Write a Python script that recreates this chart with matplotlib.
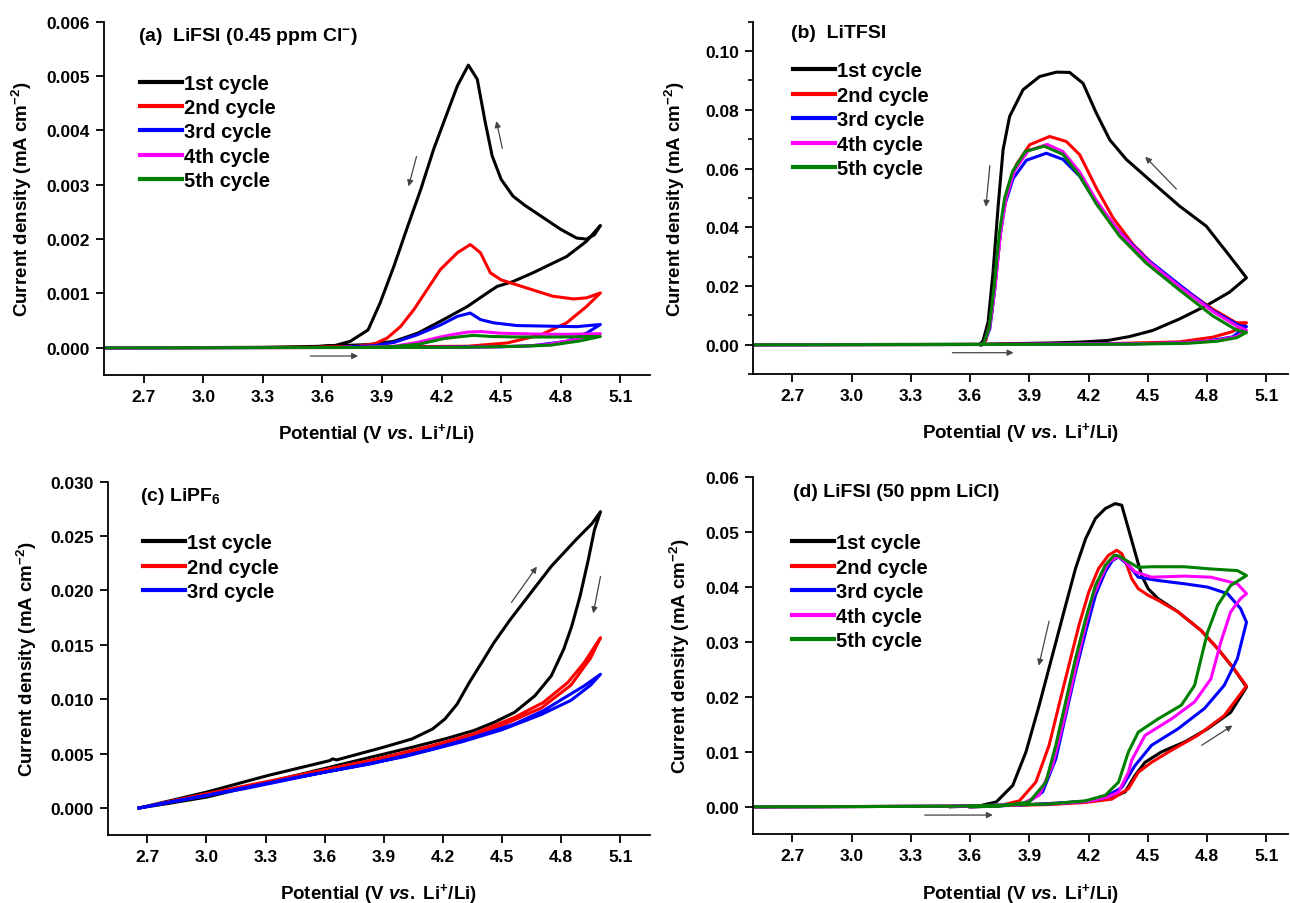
import matplotlib
matplotlib.use("Agg")
import matplotlib.pyplot as plt
from matplotlib.ticker import MultipleLocator, FormatStrFormatter

plt.rcParams['font.family'] = ['Liberation Sans', 'DejaVu Sans']
plt.rcParams['font.weight'] = 'bold'
plt.rcParams['axes.labelweight'] = 'bold'
plt.rcParams['mathtext.fontset'] = 'custom'
plt.rcParams['mathtext.rm'] = 'Liberation Sans:bold'
plt.rcParams['mathtext.bf'] = 'Liberation Sans:bold'
plt.rcParams['mathtext.it'] = 'Liberation Sans:italic:bold'

cycle_names = ['1st cycle', '2nd cycle', '3rd cycle', '4th cycle', '5th cycle']
cycle_colors = ['black', '#ff0000', '#0000ff', '#ff00ff', '#008000']

# ---- (a) LiFSI, 0.45 ppm Cl- : forward scan then reverse scan ----
a_v1 = [2.50, 3.30, 3.60, 3.83, 3.96, 4.08, 4.21, 4.33, 4.43, 4.48, 4.56, 4.66, 4.83, 4.93, 5.00,
        4.97, 4.93, 4.88, 4.80, 4.71, 4.62, 4.56, 4.50, 4.455, 4.42, 4.38, 4.335, 4.28, 4.21, 4.16,
        4.095, 4.03, 3.96, 3.89, 3.83, 3.74, 3.66, 3.55]
a_j1 = [0, 0.00001, 0.00003, 0.00006, 0.00012, 0.00027, 0.00052, 0.00076, 0.00101, 0.00113, 0.00122,
        0.00138, 0.00168, 0.00196, 0.00225,
        0.00208, 0.00200, 0.00202, 0.00218, 0.00240, 0.00262, 0.00279, 0.00310, 0.00353, 0.00415,
        0.00494, 0.00520, 0.00482, 0.00414, 0.00365, 0.00291, 0.00224, 0.00150, 0.00082, 0.00033,
        0.00012, 0.00004, 0.00002]
a_v2 = [2.50, 3.50, 3.90, 4.33, 4.53, 4.70, 4.83, 4.93, 5.00,
        4.93, 4.865, 4.76, 4.63, 4.50, 4.446, 4.396, 4.345, 4.28, 4.194, 4.127, 4.06, 3.993, 3.926,
        3.86, 3.75, 3.60]
a_j2 = [0, 0.00001, 0.00002, 0.00003, 0.00009, 0.00024, 0.00046, 0.00076, 0.00101,
        0.00092, 0.00090, 0.00095, 0.00110, 0.00125, 0.00138, 0.00175, 0.00190, 0.00175, 0.00144,
        0.00107, 0.00070, 0.00039, 0.00018, 0.00007, 0.00002, 0.00001]
a_v3 = [2.50, 4.00, 4.50, 4.66, 4.83, 4.93, 5.00,
        4.88, 4.73, 4.58, 4.463, 4.396, 4.345, 4.28, 4.194, 4.077, 3.96, 3.86, 3.70]
a_j3 = [0, 0.00001, 0.00002, 0.00004, 0.00012, 0.00027, 0.00043,
        0.00039, 0.00040, 0.00041, 0.00046, 0.00052, 0.00064, 0.00058, 0.00042, 0.00024, 0.00010,
        0.00004, 0.00001]
a_v4 = [2.50, 4.30, 4.60, 4.73, 4.90, 5.00,
        4.85, 4.73, 4.60, 4.496, 4.40, 4.33, 4.25, 4.194, 4.077, 3.96, 3.80]
a_j4 = [0, 0.00001, 0.00003, 0.00006, 0.00017, 0.00026,
        0.00025, 0.00025, 0.00026, 0.00027, 0.00030, 0.00029, 0.00024, 0.00020, 0.00010, 0.00003,
        0.00001]
a_v5 = [2.50, 4.30, 4.60, 4.75, 4.90, 5.00,
        4.80, 4.58, 4.45, 4.36, 4.28, 4.21, 4.09, 3.95, 3.80]
a_j5 = [0, 0.00001, 0.00003, 0.00005, 0.00013, 0.00021,
        0.00020, 0.00020, 0.00021, 0.00023, 0.00020, 0.00017, 0.00007, 0.00002, 0.00001]

# ---- (b) LiTFSI ----
b_v1 = [2.50, 3.65, 4.00, 4.155, 4.30, 4.408, 4.526, 4.661, 4.796, 4.914, 5.00,
        4.914, 4.796, 4.661, 4.526, 4.391, 4.307, 4.239, 4.172, 4.104, 4.037, 3.952, 3.868, 3.80,
        3.767, 3.742, 3.716, 3.691, 3.666, 3.65]
b_j1 = [0, 0.0002, 0.0006, 0.0009, 0.0015, 0.0028, 0.0049, 0.0088, 0.0133, 0.0179, 0.0228,
        0.0303, 0.0404, 0.0472, 0.0551, 0.0631, 0.0698, 0.0789, 0.0890, 0.0927, 0.0928, 0.0913,
        0.0868, 0.0777, 0.0664, 0.0472, 0.0246, 0.0077, 0.0015, 0.0]
b_v2 = [2.50, 3.65, 4.30, 4.55, 4.66, 4.83, 4.93, 5.00,
        4.948, 4.83, 4.695, 4.56, 4.425, 4.324, 4.239, 4.155, 4.087, 4.003, 3.902, 3.834, 3.792,
        3.758, 3.733, 3.708, 3.68, 3.66]
b_j2 = [0, 0.0001, 0.0004, 0.0008, 0.0010, 0.0026, 0.0045, 0.0075,
        0.0075, 0.0121, 0.0184, 0.0251, 0.0342, 0.0432, 0.0534, 0.0647, 0.0692, 0.0709, 0.0681,
        0.0613, 0.0534, 0.0409, 0.0250, 0.0099, 0.0015, 0.0]
b_v3 = [2.50, 3.65, 4.40, 4.66, 4.80, 4.93, 5.00,
        4.965, 4.83, 4.661, 4.492, 4.357, 4.239, 4.155, 4.07, 3.986, 3.885, 3.818, 3.775, 3.75,
        3.725, 3.70, 3.67, 3.655]
b_j3 = [0, 0.0001, 0.0003, 0.0006, 0.0012, 0.0027, 0.0062,
        0.0065, 0.0116, 0.0204, 0.0294, 0.0384, 0.0484, 0.0574, 0.0631, 0.0652, 0.0628, 0.0566,
        0.0475, 0.0360, 0.0190, 0.0055, 0.0006, 0.0]
b_v4 = [2.50, 3.65, 4.40, 4.70, 4.85, 4.95, 5.00,
        4.95, 4.83, 4.661, 4.492, 4.357, 4.239, 4.155, 4.07, 3.99, 3.895, 3.826, 3.783, 3.754,
        3.727, 3.70, 3.67, 3.655]
b_j4 = [0, 0.0001, 0.0003, 0.0007, 0.0015, 0.0028, 0.0050,
        0.0064, 0.0113, 0.0198, 0.0290, 0.0382, 0.0492, 0.0588, 0.0658, 0.0682, 0.0661, 0.0594,
        0.0502, 0.0380, 0.0200, 0.0060, 0.0006, 0.0]
b_v5 = [2.50, 3.65, 4.40, 4.70, 4.85, 4.95, 5.00,
        4.95, 4.83, 4.661, 4.492, 4.357, 4.239, 4.155, 4.07, 3.975, 3.88, 3.815, 3.775, 3.748,
        3.722, 3.697, 3.67, 3.655]
b_j5 = [0, 0.0001, 0.0002, 0.0005, 0.0012, 0.0024, 0.0042,
        0.0050, 0.0098, 0.0186, 0.0278, 0.0370, 0.0480, 0.0575, 0.0648, 0.0676, 0.0658, 0.0590,
        0.0500, 0.0380, 0.0200, 0.0060, 0.0006, 0.0]

# ---- (c) LiPF6 ----
c_v1 = [2.658, 3.0, 3.314, 3.626, 3.64, 3.66, 3.897, 4.043, 4.147, 4.21, 4.272, 4.334, 4.397,
        4.459, 4.542, 4.646, 4.75, 4.875, 4.958, 5.0,
        4.969, 4.938, 4.896, 4.854, 4.813, 4.75, 4.667, 4.563, 4.459, 4.355, 4.21, 4.043, 3.834,
        3.626, 3.418, 3.21, 3.0, 2.80, 2.658]
c_j1 = [0, 0.00146, 0.0030, 0.00436, 0.00452, 0.00442, 0.00558, 0.00635, 0.00726, 0.00818,
        0.00955, 0.01154, 0.01337, 0.0152, 0.01733, 0.01978, 0.02222, 0.02466, 0.02618, 0.02725,
        0.02557, 0.02283, 0.01947, 0.01672, 0.01459, 0.01215, 0.01032, 0.00879, 0.00787, 0.00711,
        0.00635, 0.00558, 0.00467, 0.00375, 0.00284, 0.00192, 0.0010, 0.0004, 0]
c_v2 = [2.658, 3.0, 3.418, 3.834, 4.147, 4.355, 4.563, 4.709, 4.834, 4.917, 5.0,
        4.95, 4.85, 4.70, 4.50, 4.30, 4.0, 3.6, 3.2, 2.8, 2.658]
c_j2 = [0, 0.00131, 0.00284, 0.00436, 0.00574, 0.00681, 0.00833, 0.0097, 0.01154, 0.01337, 0.01566,
        0.0138, 0.0113, 0.0092, 0.0076, 0.0064, 0.0050, 0.0035, 0.0019, 0.0005, 0]
c_v3 = [2.658, 3.0, 3.418, 3.834, 4.147, 4.355, 4.563, 4.709, 4.834, 4.917, 5.0,
        4.95, 4.85, 4.70, 4.50, 4.30, 4.0, 3.6, 3.2, 2.8, 2.658]
c_j3 = [0, 0.00116, 0.00269, 0.00406, 0.00543, 0.0065, 0.00772, 0.00894, 0.01032, 0.01123, 0.0123,
        0.0113, 0.0099, 0.0086, 0.0072, 0.0061, 0.0047, 0.0033, 0.0018, 0.0005, 0]

# ---- (d) LiFSI, 50 ppm LiCl ----
d_v1 = [2.50, 3.50, 3.85, 4.00, 4.185, 4.318, 4.385, 4.435, 4.486, 4.569, 4.686, 4.803, 4.92, 5.0,
        4.937, 4.854, 4.77, 4.653, 4.552, 4.502, 4.469, 4.435, 4.402, 4.368, 4.335, 4.285, 4.235,
        4.185, 4.134, 4.084, 4.017, 3.95, 3.883, 3.816, 3.733, 3.65, 3.50]
d_j1 = [0, 0.0001, 0.0003, 0.0006, 0.0010, 0.0017, 0.0027, 0.0057, 0.0081, 0.0100, 0.0118, 0.0142,
        0.0172, 0.0218,
        0.0251, 0.0288, 0.0321, 0.0355, 0.0379, 0.0397, 0.0421, 0.0464, 0.0506, 0.0549, 0.0552,
        0.0543, 0.0525, 0.0488, 0.0434, 0.0367, 0.0276, 0.0185, 0.0100, 0.0039, 0.0009, 0.0002, 0]
d_v2 = [2.50, 3.50, 4.00, 4.185, 4.318, 4.402, 4.452, 4.519, 4.62, 4.753, 4.887, 5.0,
        4.937, 4.854, 4.77, 4.653, 4.552, 4.502, 4.452, 4.419, 4.394, 4.368, 4.343, 4.301, 4.251,
        4.201, 4.151, 4.10, 4.05, 4.0, 3.933, 3.85, 3.75, 3.60]
d_j2 = [0, 0.0001, 0.0004, 0.0008, 0.0014, 0.0033, 0.0063, 0.0081, 0.0103, 0.0130, 0.0166, 0.0220,
        0.0251, 0.0288, 0.0321, 0.0355, 0.0376, 0.0385, 0.0397, 0.0415, 0.0440, 0.0461, 0.0467,
        0.0458, 0.0434, 0.0391, 0.0330, 0.0257, 0.0185, 0.0112, 0.0045, 0.0011, 0.0002, 0]
d_v3 = [2.50, 3.50, 4.00, 4.185, 4.27, 4.368, 4.435, 4.519, 4.653, 4.787, 4.887, 4.954, 5.0,
        4.97, 4.904, 4.803, 4.686, 4.552, 4.452, 4.402, 4.352, 4.32, 4.285, 4.235, 4.185, 4.134,
        4.084, 4.034, 3.967, 3.88, 3.70, 3.60]
d_j3 = [0, 0.0001, 0.0005, 0.0010, 0.0015, 0.0035, 0.0075, 0.0112, 0.0142, 0.0179, 0.0221, 0.0270,
        0.0336,
        0.0361, 0.0388, 0.0400, 0.0406, 0.0412, 0.0418, 0.0440, 0.0455, 0.0448, 0.0428, 0.0385,
        0.0318, 0.0245, 0.0166, 0.0087, 0.0027, 0.0005, 0.0001, 0]
d_v4 = [2.50, 3.50, 4.00, 4.20, 4.30, 4.352, 4.402, 4.419, 4.486, 4.62, 4.737, 4.82, 4.87, 4.92,
        4.97, 5.0,
        4.954, 4.82, 4.686, 4.519, 4.435, 4.37, 4.345, 4.30, 4.26, 4.218, 4.168, 4.118, 4.068,
        4.017, 3.95, 3.85, 3.60]
d_j4 = [0, 0.0001, 0.0005, 0.0010, 0.0018, 0.0027, 0.0063, 0.0085, 0.0130, 0.0160, 0.0191, 0.0233,
        0.0300, 0.0355, 0.0379, 0.0388,
        0.0406, 0.0418, 0.0420, 0.0418, 0.0428, 0.0452, 0.0455, 0.0445, 0.0415, 0.0379, 0.0306,
        0.0227, 0.0148, 0.0075, 0.0021, 0.0003, 0]
d_v5 = [2.50, 3.50, 4.00, 4.185, 4.285, 4.352, 4.402, 4.452, 4.552, 4.67, 4.737, 4.77, 4.803,
        4.854, 4.92, 5.0,
        4.954, 4.82, 4.686, 4.519, 4.45, 4.402, 4.352, 4.33, 4.285, 4.235, 4.185, 4.134, 4.084,
        4.034, 3.984, 3.90, 3.75, 3.60]
d_j5 = [0, 0.0001, 0.0005, 0.0011, 0.0021, 0.0045, 0.0100, 0.0136, 0.0160, 0.0185, 0.0221, 0.0270,
        0.0318, 0.0367, 0.0403, 0.0421,
        0.0430, 0.0433, 0.0437, 0.0437, 0.0436, 0.0446, 0.0457, 0.0458, 0.0440, 0.0403, 0.0342,
        0.0270, 0.0191, 0.0112, 0.0045, 0.0009, 0.0001, 0]

panel_a = [(a_v1, a_j1), (a_v2, a_j2), (a_v3, a_j3), (a_v4, a_j4), (a_v5, a_j5)]
panel_b = [(b_v1, b_j1), (b_v2, b_j2), (b_v3, b_j3), (b_v4, b_j4), (b_v5, b_j5)]
panel_c = [(c_v1, c_j1), (c_v2, c_j2), (c_v3, c_j3)]
panel_d = [(d_v1, d_j1), (d_v2, d_j2), (d_v3, d_j3), (d_v4, d_j4), (d_v5, d_j5)]

# scan direction arrows: (start V, start j, end V, end j)
arrows_a = [(3.54, -0.00015, 3.78, -0.00015), (4.074, 0.00352, 4.034, 0.00297),
            (4.506, 0.00367, 4.476, 0.00417)]
arrows_b = [(3.51, -0.0027, 3.82, -0.0027), (3.70, 0.061, 3.68, 0.047),
            (4.645, 0.053, 4.487, 0.064)]
arrows_c = [(4.548, 0.0189, 4.677, 0.0222), (5.0, 0.0213, 4.963, 0.0179)]
arrows_d = [(3.37, -0.0015, 3.715, -0.0015), (4.0, 0.0338, 3.948, 0.0257),
            (4.773, 0.0112, 4.929, 0.0148)]

fig = plt.figure(figsize=(12.9, 9.04), dpi=100)
ax_a = fig.add_axes([0.0806, 0.584, 0.4233, 0.391])
ax_b = fig.add_axes([0.5837, 0.585, 0.4147, 0.390])
ax_c = fig.add_axes([0.0837, 0.075, 0.420, 0.391])
ax_d = fig.add_axes([0.5837, 0.076, 0.4147, 0.395])


def setup(ax, curves, arrows, title, ylim, ystep, yfmt, xmax, ylab_x, leg_xy, title_xy,
          yminor=None):
    for (v, j), name, col in zip(curves, cycle_names, cycle_colors):
        ax.plot(v, j, color=col, lw=2.2, label=name, solid_joinstyle='round')
    for x0, y0, x1, y1 in arrows:
        ax.annotate('', xy=(x1, y1), xytext=(x0, y0),
                    arrowprops=dict(arrowstyle='-|>', color='#444444', lw=0.9,
                                    mutation_scale=9, shrinkA=0, shrinkB=0))
    ax.set_xlim(2.5, xmax)
    ax.set_xticks([2.7, 3.0, 3.3, 3.6, 3.9, 4.2, 4.5, 4.8, 5.1])
    ax.xaxis.set_major_formatter(FormatStrFormatter('%.1f'))
    ax.yaxis.set_major_locator(MultipleLocator(ystep))
    ax.yaxis.set_major_formatter(FormatStrFormatter(yfmt))
    if yminor:
        ax.yaxis.set_minor_locator(MultipleLocator(yminor))
    ax.set_ylim(*ylim)
    for s in ['top', 'right']:
        ax.spines[s].set_visible(False)
    for s in ['left', 'bottom']:
        ax.spines[s].set_linewidth(1.3)
    ax.tick_params(which='major', direction='out', length=6, width=1.3, labelsize=12.5, pad=4)
    ax.tick_params(which='minor', direction='out', length=3.5, width=1.2)
    ax.set_xlabel(r'Potential (V $\mathit{vs.}$ Li$^{+}$/Li)', fontsize=13.5)
    ax.set_ylabel(r'Current density (mA cm$^{-2}$)', fontsize=13.5)
    ax.xaxis.set_label_coords(0.5, -0.13)
    ax.yaxis.set_label_coords(ylab_x, 0.5)
    ax.text(title_xy[0], title_xy[1], title, transform=ax.transAxes, fontsize=14,
            fontweight='bold', va='center', ha='left')
    leg = ax.legend(loc='upper left', bbox_to_anchor=leg_xy, frameon=False, fontsize=14.5,
                    handlelength=2.1, handletextpad=0.1, labelspacing=0.27, borderpad=0,
                    borderaxespad=0)
    for line in leg.get_lines():
        line.set_linewidth(3)


setup(ax_a, panel_a, arrows_a, r'(a)  LiFSI (0.45 ppm Cl$^{-}$)', (-0.0005, 0.006), 0.001,
      '%.3f', 5.25, -0.128, (0.066, 0.853), (0.062, 0.962))
setup(ax_b, panel_b, arrows_b, '(b)  LiTFSI', (-0.01, 0.11), 0.02, '%.2f', 5.21, -0.124,
      (0.074, 0.887), (0.071, 0.970), yminor=0.01)
setup(ax_c, panel_c, arrows_c, r'(c) LiPF$_{6}$', (-0.0025, 0.030), 0.005, '%.3f', 5.25,
      -0.127, (0.064, 0.854), (0.059, 0.960))
setup(ax_d, panel_d, arrows_d, '(d) LiFSI (50 ppm LiCl)', (-0.005, 0.06), 0.01, '%.2f', 5.21,
      -0.114, (0.073, 0.843), (0.075, 0.959))

fig.savefig('out.png', dpi=100)
